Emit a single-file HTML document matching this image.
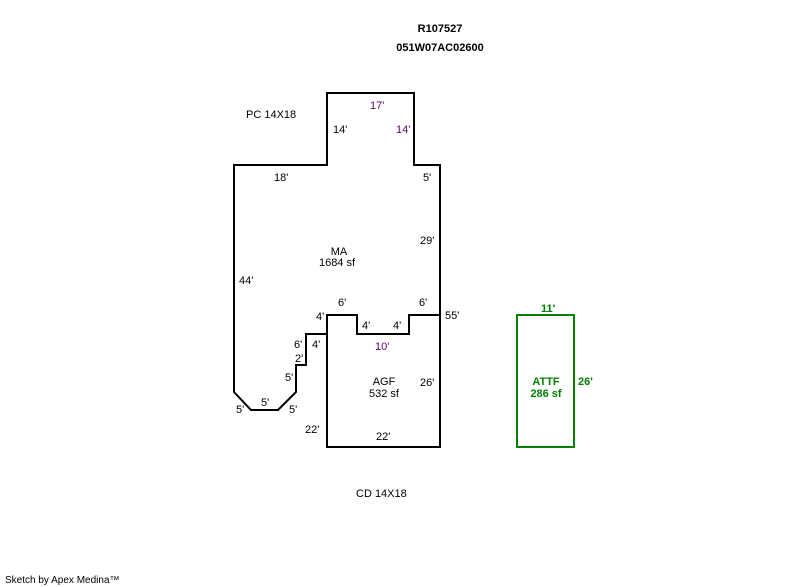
<!DOCTYPE html>
<html><head><style>
body{margin:0;background:#fff}
svg{display:block}
text{font-family:"Liberation Sans",Arial,sans-serif;font-size:11px;fill:#000}
</style></head><body>
<svg width="800" height="587" xmlns="http://www.w3.org/2000/svg">
<text x="440" y="32" text-anchor="middle" font-weight="bold">R107527</text>
<text x="440" y="51" text-anchor="middle" font-weight="bold">051W07AC02600</text>
<text x="246" y="118">PC 14X18</text>
<text x="356" y="497">CD 14X18</text>
<text x="5" y="583" style="font-size:10px">Sketch by Apex Medina™</text>
<polygon points="234,165 327,165 327,93 414,93 414,165 440,165 440,447 327,447 327,334 306,334 306,365 296,365 296,392 278,410 251,410 234,392" fill="none" stroke="#000" stroke-width="2"/>
<polyline points="327,334 327,315 357,315 357,334 409,334 409,315 440,315" fill="none" stroke="#000" stroke-width="2"/>
<rect x="517" y="315" width="57" height="132" fill="none" stroke="#008000" stroke-width="2"/>
<text x="370" y="109" fill="#600060" style="fill:#600060">17'</text>
<text x="333" y="133">14'</text>
<text x="396" y="133" style="fill:#600060">14'</text>
<text x="274" y="181">18'</text>
<text x="423" y="181">5'</text>
<text x="420" y="244">29'</text>
<text x="339" y="255" text-anchor="middle">MA</text>
<text x="337" y="266" text-anchor="middle">1684 sf</text>
<text x="239" y="284">44'</text>
<text x="338" y="306">6'</text>
<text x="419" y="306">6'</text>
<text x="316" y="320">4'</text>
<text x="445" y="319">55'</text>
<text x="362" y="329">4'</text>
<text x="393" y="329">4'</text>
<text x="375" y="350" style="fill:#600060">10'</text>
<text x="294" y="348">6'</text>
<text x="312" y="348">4'</text>
<text x="295" y="362">2'</text>
<text x="285" y="381">5'</text>
<text x="384" y="385" text-anchor="middle">AGF</text>
<text x="384" y="397" text-anchor="middle">532 sf</text>
<text x="420" y="386">26'</text>
<text x="261" y="406">5'</text>
<text x="236" y="413">5'</text>
<text x="289" y="413">5'</text>
<text x="305" y="433">22'</text>
<text x="376" y="440">22'</text>
<text x="541" y="312" style="fill:#008000" font-weight="bold">11'</text>
<text x="578" y="385" style="fill:#008000" font-weight="bold">26'</text>
<text x="546" y="385" text-anchor="middle" style="fill:#008000" font-weight="bold">ATTF</text>
<text x="546" y="397" text-anchor="middle" style="fill:#008000" font-weight="bold">286 sf</text>
</svg>
</body></html>
